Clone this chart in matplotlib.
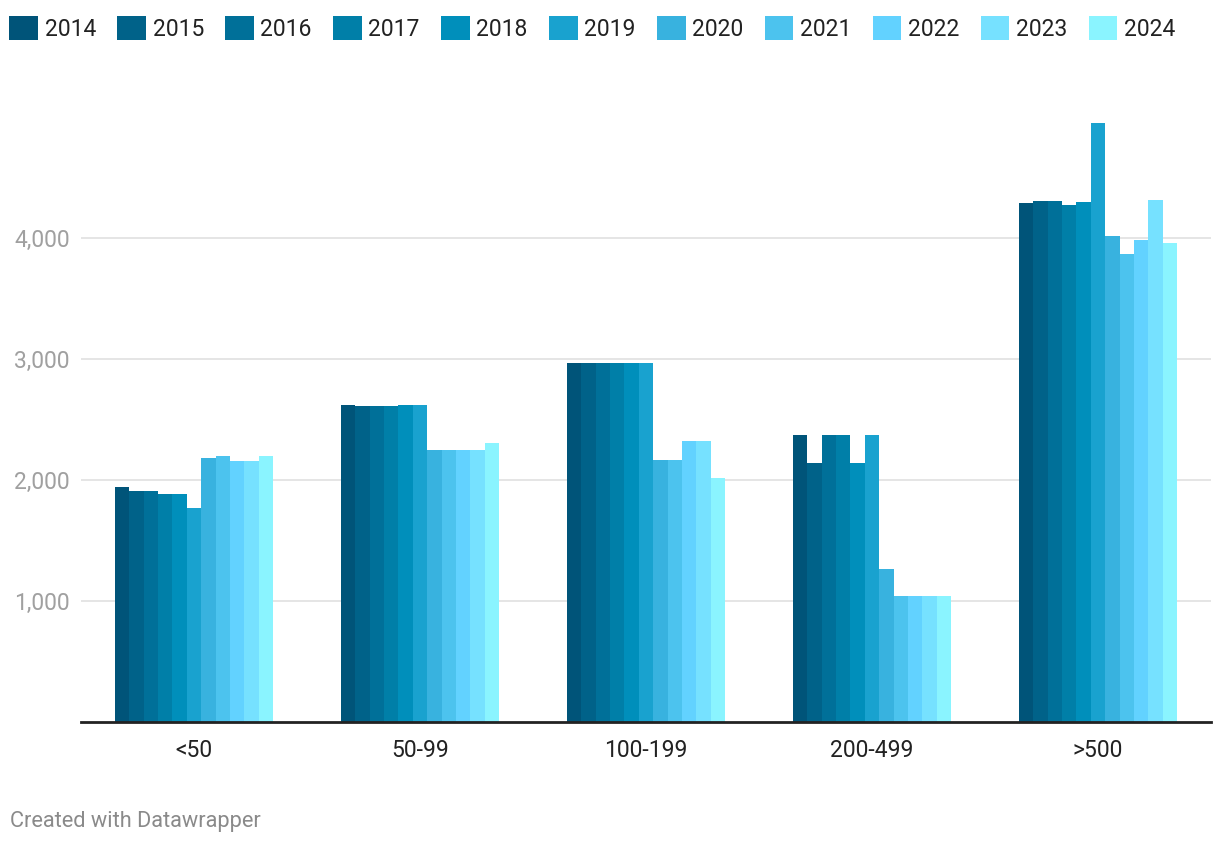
import numpy as np
import matplotlib.pyplot as plt
from matplotlib.ticker import FuncFormatter

plt.rcParams['font.family'] = ['Roboto', 'DejaVu Sans']

# ----------------------------- data -----------------------------
categories = ['<50', '50-99', '100-199', '200-499', '>500']
years = ['2014', '2015', '2016', '2017', '2018', '2019',
         '2020', '2021', '2022', '2023', '2024']

v2014 = [1945, 2620, 2967, 2372, 4289]
v2015 = [1909, 2612, 2967, 2140, 4306]
v2016 = [1909, 2612, 2967, 2372, 4306]
v2017 = [1884, 2612, 2967, 2372, 4273]
v2018 = [1884, 2620, 2967, 2140, 4298]
v2019 = [1769, 2620, 2967, 2372, 4950]
v2020 = [2182, 2248, 2165, 1264, 4017]
v2021 = [2198, 2248, 2165, 1041, 3868]
v2022 = [2157, 2248, 2322, 1041, 3983]
v2023 = [2157, 2248, 2322, 1041, 4314]
v2024 = [2198, 2306, 2017, 1041, 3959]
series = [v2014, v2015, v2016, v2017, v2018, v2019,
          v2020, v2021, v2022, v2023, v2024]

colors = ['#005479', '#006289', '#007099', '#007fa8', '#008fbb', '#19a2cf',
          '#38b2df', '#4cc3ee', '#62d2ff', '#76e1ff', '#8af4ff']

# ----------------------------- plot -----------------------------
fig = plt.figure(figsize=(12.2, 8.44), dpi=100)
ax = fig.add_axes([81 / 1220, 122 / 844, 1130 / 1220, 611 / 844])

x = np.arange(len(categories))
n = len(years)
group_w = 0.70
bw = group_w / n
for i, (yr, vals, c) in enumerate(zip(years, series, colors)):
    offs = -group_w / 2 + bw * (i + 0.5)
    ax.bar(x + offs, vals, width=bw, color=c, label=yr, linewidth=0, zorder=2)

ax.set_xlim(-0.5, len(categories) - 0.5)
ax.set_ylim(0, 5050)
ax.set_yticks([1000, 2000, 3000, 4000])
ax.yaxis.set_major_formatter(FuncFormatter(lambda v, p: f'{int(v):,}'))
ax.grid(axis='y', color='#e3e3e3', linewidth=1.3, zorder=0)
ax.tick_params(axis='y', length=0, pad=8, labelsize=16.5, labelcolor='#a0a0a0')
ax.tick_params(axis='x', length=0, pad=12, labelsize=16.5, labelcolor='#222222')
ax.set_xticks(x)
ax.set_xticklabels(categories)

for s in ['top', 'right', 'left']:
    ax.spines[s].set_visible(False)
ax.spines['bottom'].set_color('#222222')
ax.spines['bottom'].set_linewidth(2)
ax.spines['bottom'].set_zorder(3)

fig.legend(loc='upper left', bbox_to_anchor=(9 / 1220, 1 - 16 / 844),
           ncol=n, frameon=False, fontsize=16.5, borderpad=0, borderaxespad=0,
           handlelength=1.25, handleheight=1.25, handletextpad=0.3,
           columnspacing=0.92, labelcolor='#222222')

fig.text(10 / 1220, 1 - 822 / 844, 'Created with Datawrapper', fontsize=15.7,
         color='#8a8a8a', va='center', ha='left')

plt.savefig('out.png', dpi=100)
